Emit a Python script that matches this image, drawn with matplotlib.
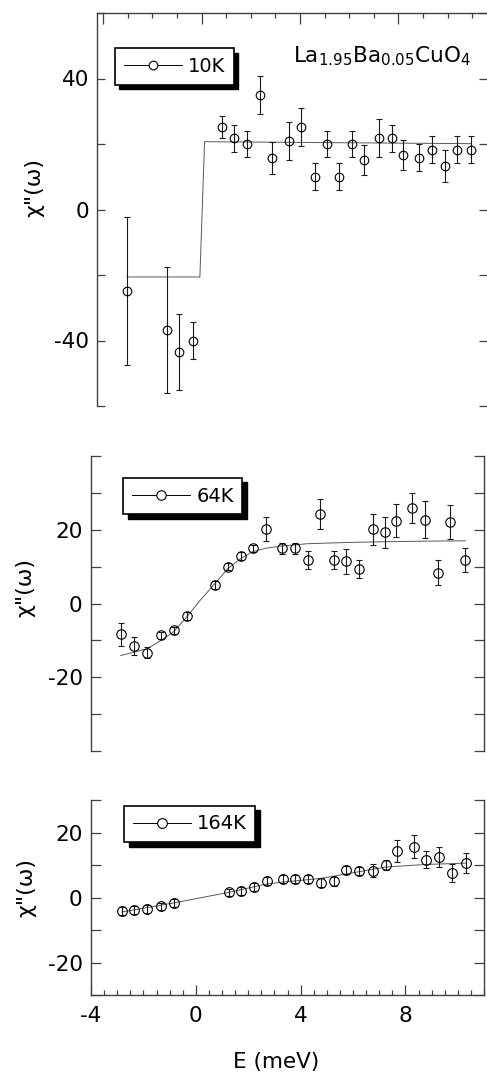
import matplotlib
matplotlib.use("Agg")
import matplotlib.pyplot as plt
from matplotlib.lines import Line2D
from matplotlib.patches import Rectangle
from matplotlib.ticker import MultipleLocator, FuncFormatter

plt.rcParams['font.family'] = ['DejaVu Sans']
plt.rcParams['mathtext.fontset'] = 'dejavusans'
plt.rcParams['axes.unicode_minus'] = False

# 10K panel
e10 = [-3.03, -1.41, -0.91, -0.34, 0.81, 1.32, 1.86, 2.37, 2.86, 3.54, 4.06, 4.60,
       5.09, 5.59, 6.11, 6.61, 7.22, 7.72, 8.17, 8.84, 9.35, 9.91, 10.39, 10.96]
chi10 = [-25.0, -36.7, -43.5, -40.0, 25.1, 21.7, 20.0, 35.0, 15.8, 20.8, 25.1, 10.0,
         20.0, 10.0, 20.0, 15.1, 21.7, 21.7, 16.6, 15.8, 18.3, 13.3, 18.3, 18.3]
err10 = [22.6, 19.2, 11.6, 5.7, 3.3, 4.1, 4.0, 5.9, 4.9, 5.8, 5.8, 4.1,
         4.0, 4.1, 4.0, 4.5, 5.8, 4.1, 4.6, 4.1, 4.2, 5.0, 4.2, 4.2]
fit10_e = [-3.03, -0.07, 0.12, 10.96]
fit10_chi = [-20.6, -20.6, 20.7, 20.1]

# 64K panel
e64 = [-2.86, -2.37, -1.86, -1.33, -0.85, -0.34, 0.74, 1.23, 1.74, 2.18, 2.69, 3.29, 3.80,
       4.28, 4.75, 5.26, 5.73, 6.21, 6.76, 7.23, 7.65, 8.27, 8.76, 9.24, 9.71, 10.29]
chi64 = [-8.4, -11.6, -13.3, -8.6, -7.3, -3.4, 5.0, 10.0, 12.9, 15.0, 20.2, 15.0, 15.0,
         11.8, 24.3, 11.8, 11.4, 9.3, 20.2, 19.3, 22.5, 25.9, 22.7, 8.4, 22.0, 11.8]
err64 = [3.2, 2.5, 1.6, 1.0, 1.0, 1.0, 1.0, 1.0, 1.0, 1.0, 3.3, 1.5, 1.5,
         2.5, 4.1, 2.5, 3.4, 2.5, 4.2, 4.2, 4.6, 4.1, 5.0, 3.3, 4.6, 3.3]
fit64_e = [-2.86, -1.86, -1.33, -0.85, -0.34, 0.17, 0.74, 1.23, 1.74, 2.18, 2.69, 3.29,
           4.24, 5.52, 6.79, 8.70, 10.29]
fit64_chi = [-14.1, -12.3, -10.0, -7.7, -3.6, 0.9, 5.5, 9.5, 12.3, 14.1, 15.0, 15.6,
             16.2, 16.5, 16.7, 16.9, 17.0]

# 164K panel
e164 = [-2.82, -2.34, -1.87, -1.31, -0.83, 1.25, 1.74, 2.23, 2.70, 3.33, 3.80, 4.29,
        4.77, 5.26, 5.75, 6.22, 6.78, 7.25, 7.67, 8.31, 8.78, 9.27, 9.76, 10.31]
chi164 = [-4.2, -3.9, -3.4, -2.7, -1.6, 1.6, 2.0, 3.3, 5.1, 5.8, 5.8, 5.8,
          4.6, 5.0, 8.4, 8.2, 8.2, 10.1, 14.3, 15.7, 11.7, 12.4, 7.6, 10.7]
err164 = [1.2, 1.2, 1.2, 1.2, 1.3, 1.2, 1.2, 1.3, 1.3, 1.2, 1.3, 1.2,
          1.3, 1.3, 1.2, 1.2, 2.0, 1.5, 3.5, 3.4, 2.7, 3.1, 2.7, 3.1]
fit164_e = [-2.82, -0.83, 1.25, 2.70, 3.33, 4.77, 5.75, 7.25, 8.78, 10.31]
fit164_chi = [-4.4, -1.6, 1.6, 4.2, 4.8, 5.9, 7.3, 9.4, 10.2, 10.6]

labels = ['10K', '64K', '164K']
ylabel_sets = [[-40, 0, 40], [-20, 0, 20], [-20, 0, 20]]

W, H = 487, 1078
fig = plt.figure(figsize=(W / 100, H / 100), dpi=100)


def box(l, t, r, b):
    return [l / W, 1 - b / H, (r - l) / W, (b - t) / H]


ax1 = fig.add_axes(box(97.3, 13, 487, 406))
ax2 = fig.add_axes(box(91, 456, 484, 751))
ax3 = fig.add_axes(box(91, 800, 484, 995.3))
axes = [ax1, ax2, ax3]

panels = [(e10, chi10, err10, fit10_e, fit10_chi, 6.2),
          (e64, chi64, err64, fit64_e, fit64_chi, 6.8),
          (e164, chi164, err164, fit164_e, fit164_chi, 7.0)]

legend_pos = [(0.045, 0.910), (0.082, 0.926), (0.084, 0.971)]
legends = []
for ax, (e, c, er, fe, fc, ms), lab, lp, yl in zip(axes, panels, labels, legend_pos, ylabel_sets):
    ax.plot(fe, fc, color='0.35', lw=0.7, zorder=1)
    ax.errorbar(e, c, yerr=er, fmt='o', ms=ms, mfc='none', mec='k', mew=0.8,
                ecolor='0.1', elinewidth=0.8, capsize=2.4, capthick=0.8, zorder=2)
    h = Line2D([], [], color='k', lw=0.7, marker='o', ms=ms, mfc='white', mec='k', mew=0.8)
    leg = ax.legend([h], [lab], loc='upper left', bbox_to_anchor=lp, borderaxespad=0,
                    fancybox=False, framealpha=1, edgecolor='k', fontsize=14,
                    handlelength=3.0, handletextpad=0.3, borderpad=0.45)
    leg.get_frame().set_linewidth(1.2)
    legends.append(leg)

    ax.set_ylabel('χ"(ω)', fontsize=16, va='center')
    ax.yaxis.set_major_formatter(FuncFormatter(
        lambda v, p, yl=yl: f'{v:.0f}' if round(v) in yl else ''))
    ax.tick_params(axis='y', which='both', direction='in', left=True, right=True,
                   labelsize=15.5, pad=6, width=0.9, color='0.25')
    for s in ax.spines.values():
        s.set_linewidth(1.0)
        s.set_color('0.25')

# top panel
ax1.set_xlim(-4.24, 11.6)
ax1.set_ylim(-60, 60)
ax1.yaxis.set_major_locator(MultipleLocator(20))
ax1.xaxis.set_major_locator(MultipleLocator(4))
ax1.xaxis.set_minor_locator(MultipleLocator(1))
ax1.tick_params(axis='x', which='both', direction='in', top=True, bottom=False,
                labeltop=False, labelbottom=False, width=0.9, color='0.25')
ax1.tick_params(axis='x', which='major', length=7.7)
ax1.tick_params(axis='x', which='minor', length=3.6)
ax1.tick_params(axis='y', length=5.5)
ax1.spines['bottom'].set_visible(False)
ax1.spines['right'].set_visible(False)
ax1.yaxis.set_label_coords(-0.161, 0.556)
ax1.text(0.502, 0.875, r'La$_{\mathregular{1.95}}$Ba$_{\mathregular{0.05}}$CuO$_{\mathregular{4}}$',
         transform=ax1.transAxes, fontsize=15.5, ha='left', va='baseline')

# middle panel
ax2.set_xlim(-4, 11)
ax2.set_ylim(-40, 40)
ax2.yaxis.set_major_locator(MultipleLocator(10))
ax2.set_xticks([])
ax2.tick_params(axis='y', length=7.2)
ax2.spines['top'].set_visible(False)
ax2.spines['bottom'].set_visible(False)
ax2.yaxis.set_label_coords(-0.168, 0.553)

# bottom panel
ax3.set_xlim(-4, 11)
ax3.set_ylim(-30, 30)
ax3.yaxis.set_major_locator(MultipleLocator(10))
ax3.xaxis.set_major_locator(MultipleLocator(4))
ax3.xaxis.set_minor_locator(MultipleLocator(0.5))
ax3.tick_params(axis='x', which='both', direction='in', top=False, bottom=True,
                labelsize=15.5, pad=8, width=0.9, color='0.25')
ax3.tick_params(axis='x', which='major', length=7.2)
ax3.tick_params(axis='x', which='minor', length=3.6)
ax3.tick_params(axis='y', length=7.2)
ax3.spines['top'].set_visible(False)
ax3.yaxis.set_label_coords(-0.164, 0.551)
ax3.set_xlabel('E (meV)', fontsize=15.5, va='center')
ax3.xaxis.set_label_coords(0.471, -0.34)

# drop shadows behind the legend boxes
fig.canvas.draw()
for ax, leg in zip(axes, legends):
    bb = leg.get_frame().get_window_extent().transformed(ax.transAxes.inverted())
    apos = ax.get_window_extent()
    dx, dy = 4.5 / apos.width, 4.5 / apos.height
    ax.add_patch(Rectangle((bb.x0 + dx, bb.y0 - dy), bb.width, bb.height,
                           transform=ax.transAxes, fc='k', ec='k', zorder=4.9, clip_on=False))

fig.savefig('out.png', dpi=100)
